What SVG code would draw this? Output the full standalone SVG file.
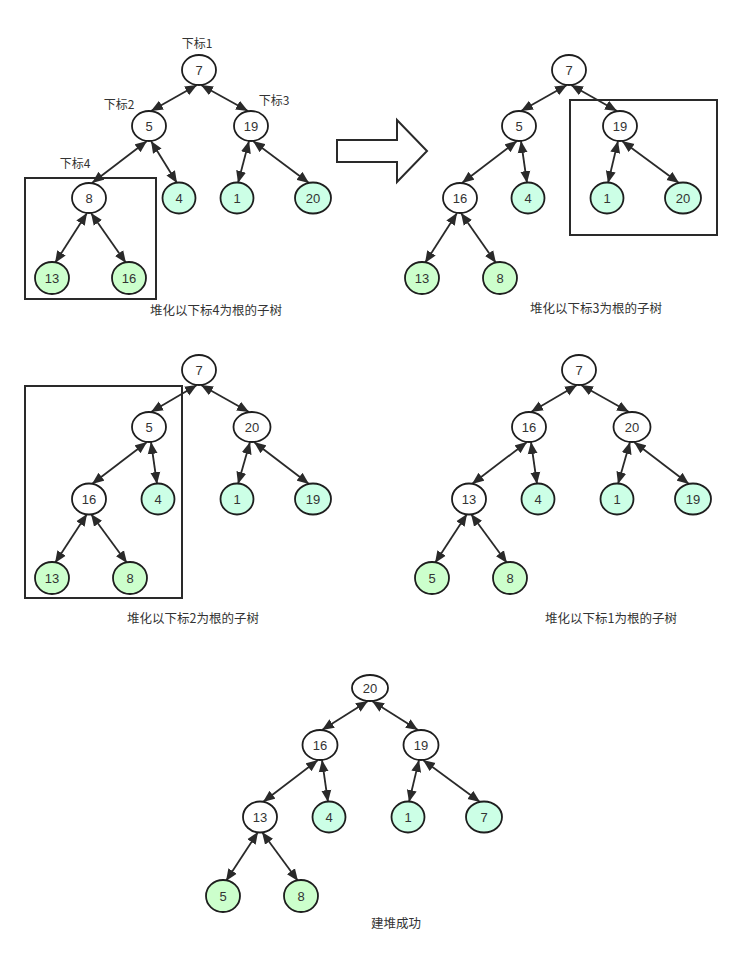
<svg xmlns="http://www.w3.org/2000/svg" width="742" height="968" viewBox="0 0 742 968">
<style>
.n{stroke:#1e1e1e;stroke-width:1.8}
.w{fill:#ffffff}
.c{fill:#ccffe6}
.g{fill:#ccffcc}
.t{font-family:"Liberation Sans","Noto Sans CJK SC",sans-serif;font-size:13px;fill:#333;text-anchor:middle}
.lb{font-family:"Noto Sans CJK SC","Liberation Sans",sans-serif;font-size:12px;fill:#333;text-anchor:middle}
.cap{font-family:"Noto Sans CJK SC","Liberation Sans",sans-serif;font-size:12.5px;fill:#333;text-anchor:middle}
.e{stroke:#2a2a2a;stroke-width:1.8;fill:none;marker-start:url(#ah);marker-end:url(#ah)}
.box{fill:none;stroke:#2a2a2a;stroke-width:2}
</style>
<defs>
<marker id="ah" markerUnits="userSpaceOnUse" markerWidth="13" markerHeight="11" refX="12" refY="5.5" orient="auto-start-reverse" viewBox="0 0 13 11">
<path d="M0,0.5 L12,5.5 L0,10.5 z" fill="#2a2a2a"/>
</marker>
</defs>
<rect width="742" height="968" fill="#ffffff"/>

<!-- boxes -->
<rect class="box" x="25" y="178" width="131" height="121"/>
<rect class="box" x="570" y="100" width="147" height="135"/>
<rect class="box" x="25" y="386" width="157" height="212"/>

<!-- big arrow -->
<polygon points="337,140 397,140 397,120 427,151 397,182 397,162 337,162" fill="#ffffff" stroke="#2a2a2a" stroke-width="2"/>

<!-- labels -->
<text class="lb" x="197" y="48">下标1</text>
<text class="lb" x="119" y="109">下标2</text>
<text class="lb" x="274" y="105">下标3</text>
<text class="lb" x="75" y="168">下标4</text>

<text class="cap" x="216" y="315">堆化以下标4为根的子树</text>
<text class="cap" x="596" y="313">堆化以下标3为根的子树</text>
<text class="cap" x="193" y="623">堆化以下标2为根的子树</text>
<text class="cap" x="611" y="623">堆化以下标1为根的子树</text>
<text class="cap" x="396" y="928">建堆成功</text>

<g id="connectors">
<!-- tree 1 -->
<line class="e" x1="197" y1="85" x2="151" y2="111"/>
<line class="e" x1="201" y1="85" x2="248" y2="111"/>
<line class="e" x1="147" y1="141" x2="92" y2="183"/>
<line class="e" x1="151" y1="141" x2="177" y2="183"/>
<line class="e" x1="249" y1="141" x2="238" y2="183"/>
<line class="e" x1="253" y1="141" x2="309" y2="183"/>
<line class="e" x1="87" y1="213" x2="55" y2="263"/>
<line class="e" x1="91" y1="213" x2="126" y2="263"/>
<!-- tree 2 -->
<line class="e" x1="567" y1="85" x2="521" y2="111"/>
<line class="e" x1="571" y1="85" x2="617" y2="111"/>
<line class="e" x1="517" y1="141" x2="462" y2="183"/>
<line class="e" x1="521" y1="141" x2="527" y2="183"/>
<line class="e" x1="618" y1="141" x2="608" y2="183"/>
<line class="e" x1="622" y1="141" x2="679" y2="183"/>
<line class="e" x1="457" y1="213" x2="425" y2="263"/>
<line class="e" x1="461" y1="213" x2="496" y2="263"/>
<!-- tree 3 -->
<line class="e" x1="197" y1="385" x2="151" y2="412"/>
<line class="e" x1="201" y1="385" x2="249" y2="412"/>
<line class="e" x1="147" y1="442" x2="92" y2="484"/>
<line class="e" x1="151" y1="442" x2="157" y2="484"/>
<line class="e" x1="250" y1="442" x2="238" y2="484"/>
<line class="e" x1="254" y1="442" x2="309" y2="484"/>
<line class="e" x1="87" y1="514" x2="55" y2="563"/>
<line class="e" x1="91" y1="514" x2="127" y2="563"/>
<!-- tree 4 -->
<line class="e" x1="577" y1="385" x2="531" y2="412"/>
<line class="e" x1="581" y1="385" x2="629" y2="412"/>
<line class="e" x1="527" y1="442" x2="472" y2="484"/>
<line class="e" x1="531" y1="442" x2="537" y2="484"/>
<line class="e" x1="630" y1="442" x2="618" y2="484"/>
<line class="e" x1="634" y1="442" x2="689" y2="484"/>
<line class="e" x1="467" y1="514" x2="435" y2="563"/>
<line class="e" x1="471" y1="514" x2="507" y2="563"/>
<!-- tree 5 -->
<line class="e" x1="368" y1="701" x2="322" y2="730"/>
<line class="e" x1="372" y1="701" x2="418" y2="730"/>
<line class="e" x1="318" y1="760" x2="263" y2="802"/>
<line class="e" x1="322" y1="760" x2="328" y2="802"/>
<line class="e" x1="419" y1="760" x2="409" y2="802"/>
<line class="e" x1="423" y1="760" x2="480" y2="802"/>
<line class="e" x1="258" y1="832" x2="226" y2="881"/>
<line class="e" x1="262" y1="832" x2="298" y2="881"/>
</g>

<!-- tree 1 nodes -->
<g id="t1-7"><ellipse class="n w" cx="199" cy="70" rx="17" ry="15"/><text class="t" x="199" y="74.5">7</text></g>
<g id="t1-5"><ellipse class="n w" cx="149" cy="126" rx="17" ry="15"/><text class="t" x="149" y="130.5">5</text></g>
<g id="t1-19"><ellipse class="n w" cx="251" cy="126" rx="17" ry="15"/><text class="t" x="251" y="130.5">19</text></g>
<g id="t1-8"><ellipse class="n w" cx="89" cy="198" rx="17" ry="15"/><text class="t" x="89" y="202.5">8</text></g>
<g id="t1-4"><ellipse class="n c" cx="179" cy="198" rx="16.5" ry="15.5"/><text class="t" x="179" y="202.5">4</text></g>
<g id="t1-1"><ellipse class="n c" cx="237" cy="198" rx="16.5" ry="15.5"/><text class="t" x="237" y="202.5">1</text></g>
<g id="t1-20"><ellipse class="n c" cx="313" cy="198" rx="18" ry="15.5"/><text class="t" x="313" y="202.5">20</text></g>
<g id="t1-13"><ellipse class="n g" cx="52" cy="278" rx="17" ry="16"/><text class="t" x="52" y="282.5">13</text></g>
<g id="t1-16"><ellipse class="n g" cx="129" cy="278" rx="17" ry="16"/><text class="t" x="129" y="282.5">16</text></g>

<!-- tree 2 nodes -->
<g id="t2-7"><ellipse class="n w" cx="569" cy="70" rx="17" ry="15"/><text class="t" x="569" y="74.5">7</text></g>
<g id="t2-5"><ellipse class="n w" cx="519" cy="126" rx="17" ry="15"/><text class="t" x="519" y="130.5">5</text></g>
<g id="t2-19"><ellipse class="n w" cx="620" cy="126" rx="17" ry="15"/><text class="t" x="620" y="130.5">19</text></g>
<g id="t2-16"><ellipse class="n w" cx="460" cy="198" rx="17" ry="15"/><text class="t" x="460" y="202.5">16</text></g>
<g id="t2-4"><ellipse class="n c" cx="528" cy="198" rx="16.5" ry="15.5"/><text class="t" x="528" y="202.5">4</text></g>
<g id="t2-1"><ellipse class="n c" cx="607" cy="198" rx="16.5" ry="15.5"/><text class="t" x="607" y="202.5">1</text></g>
<g id="t2-20"><ellipse class="n c" cx="683" cy="198" rx="18" ry="15.5"/><text class="t" x="683" y="202.5">20</text></g>
<g id="t2-13"><ellipse class="n g" cx="422" cy="278" rx="17" ry="16"/><text class="t" x="422" y="282.5">13</text></g>
<g id="t2-8"><ellipse class="n g" cx="500" cy="278" rx="17" ry="16"/><text class="t" x="500" y="282.5">8</text></g>

<!-- tree 3 nodes -->
<g id="t3-7"><ellipse class="n w" cx="199" cy="370" rx="17" ry="15"/><text class="t" x="199" y="374.5">7</text></g>
<g id="t3-5"><ellipse class="n w" cx="149" cy="427" rx="17" ry="15"/><text class="t" x="149" y="431.5">5</text></g>
<g id="t3-20"><ellipse class="n w" cx="252" cy="427" rx="18.5" ry="15"/><text class="t" x="252" y="431.5">20</text></g>
<g id="t3-16"><ellipse class="n w" cx="89" cy="499" rx="17" ry="15.5"/><text class="t" x="89" y="503.5">16</text></g>
<g id="t3-4"><ellipse class="n c" cx="158" cy="499" rx="16.5" ry="15.5"/><text class="t" x="158" y="503.5">4</text></g>
<g id="t3-1"><ellipse class="n c" cx="237" cy="499" rx="16.5" ry="15.5"/><text class="t" x="237" y="503.5">1</text></g>
<g id="t3-19"><ellipse class="n c" cx="313" cy="499" rx="18" ry="15.5"/><text class="t" x="313" y="503.5">19</text></g>
<g id="t3-13"><ellipse class="n g" cx="52" cy="578" rx="17" ry="16"/><text class="t" x="52" y="582.5">13</text></g>
<g id="t3-8"><ellipse class="n g" cx="130" cy="578" rx="17" ry="16"/><text class="t" x="130" y="582.5">8</text></g>

<!-- tree 4 nodes -->
<g id="t4-7"><ellipse class="n w" cx="579" cy="370" rx="17" ry="15"/><text class="t" x="579" y="374.5">7</text></g>
<g id="t4-16"><ellipse class="n w" cx="529" cy="427" rx="17" ry="15"/><text class="t" x="529" y="431.5">16</text></g>
<g id="t4-20"><ellipse class="n w" cx="632" cy="427" rx="18.5" ry="15"/><text class="t" x="632" y="431.5">20</text></g>
<g id="t4-13"><ellipse class="n w" cx="469" cy="499" rx="17" ry="15.5"/><text class="t" x="469" y="503.5">13</text></g>
<g id="t4-4"><ellipse class="n c" cx="538" cy="499" rx="16.5" ry="15.5"/><text class="t" x="538" y="503.5">4</text></g>
<g id="t4-1"><ellipse class="n c" cx="617" cy="499" rx="16.5" ry="15.5"/><text class="t" x="617" y="503.5">1</text></g>
<g id="t4-19"><ellipse class="n c" cx="693" cy="499" rx="18" ry="15.5"/><text class="t" x="693" y="503.5">19</text></g>
<g id="t4-5"><ellipse class="n g" cx="432" cy="578" rx="17" ry="16"/><text class="t" x="432" y="582.5">5</text></g>
<g id="t4-8"><ellipse class="n g" cx="510" cy="578" rx="17" ry="16"/><text class="t" x="510" y="582.5">8</text></g>

<!-- tree 5 nodes -->
<g id="t5-20"><ellipse class="n w" cx="370" cy="688" rx="18" ry="13"/><text class="t" x="370" y="692.5">20</text></g>
<g id="t5-16"><ellipse class="n w" cx="320" cy="745" rx="17.5" ry="15"/><text class="t" x="320" y="749.5">16</text></g>
<g id="t5-19"><ellipse class="n w" cx="421" cy="745" rx="17.5" ry="15"/><text class="t" x="421" y="749.5">19</text></g>
<g id="t5-13"><ellipse class="n w" cx="260" cy="817" rx="17" ry="15.5"/><text class="t" x="260" y="821.5">13</text></g>
<g id="t5-4"><ellipse class="n c" cx="329" cy="817" rx="16.5" ry="15.5"/><text class="t" x="329" y="821.5">4</text></g>
<g id="t5-1"><ellipse class="n c" cx="408" cy="817" rx="16.5" ry="15.5"/><text class="t" x="408" y="821.5">1</text></g>
<g id="t5-7"><ellipse class="n c" cx="484" cy="817" rx="18" ry="15.5"/><text class="t" x="484" y="821.5">7</text></g>
<g id="t5-5"><ellipse class="n g" cx="223" cy="896" rx="17" ry="16"/><text class="t" x="223" y="900.5">5</text></g>
<g id="t5-8"><ellipse class="n g" cx="301" cy="896" rx="17" ry="16"/><text class="t" x="301" y="900.5">8</text></g>
</svg>
